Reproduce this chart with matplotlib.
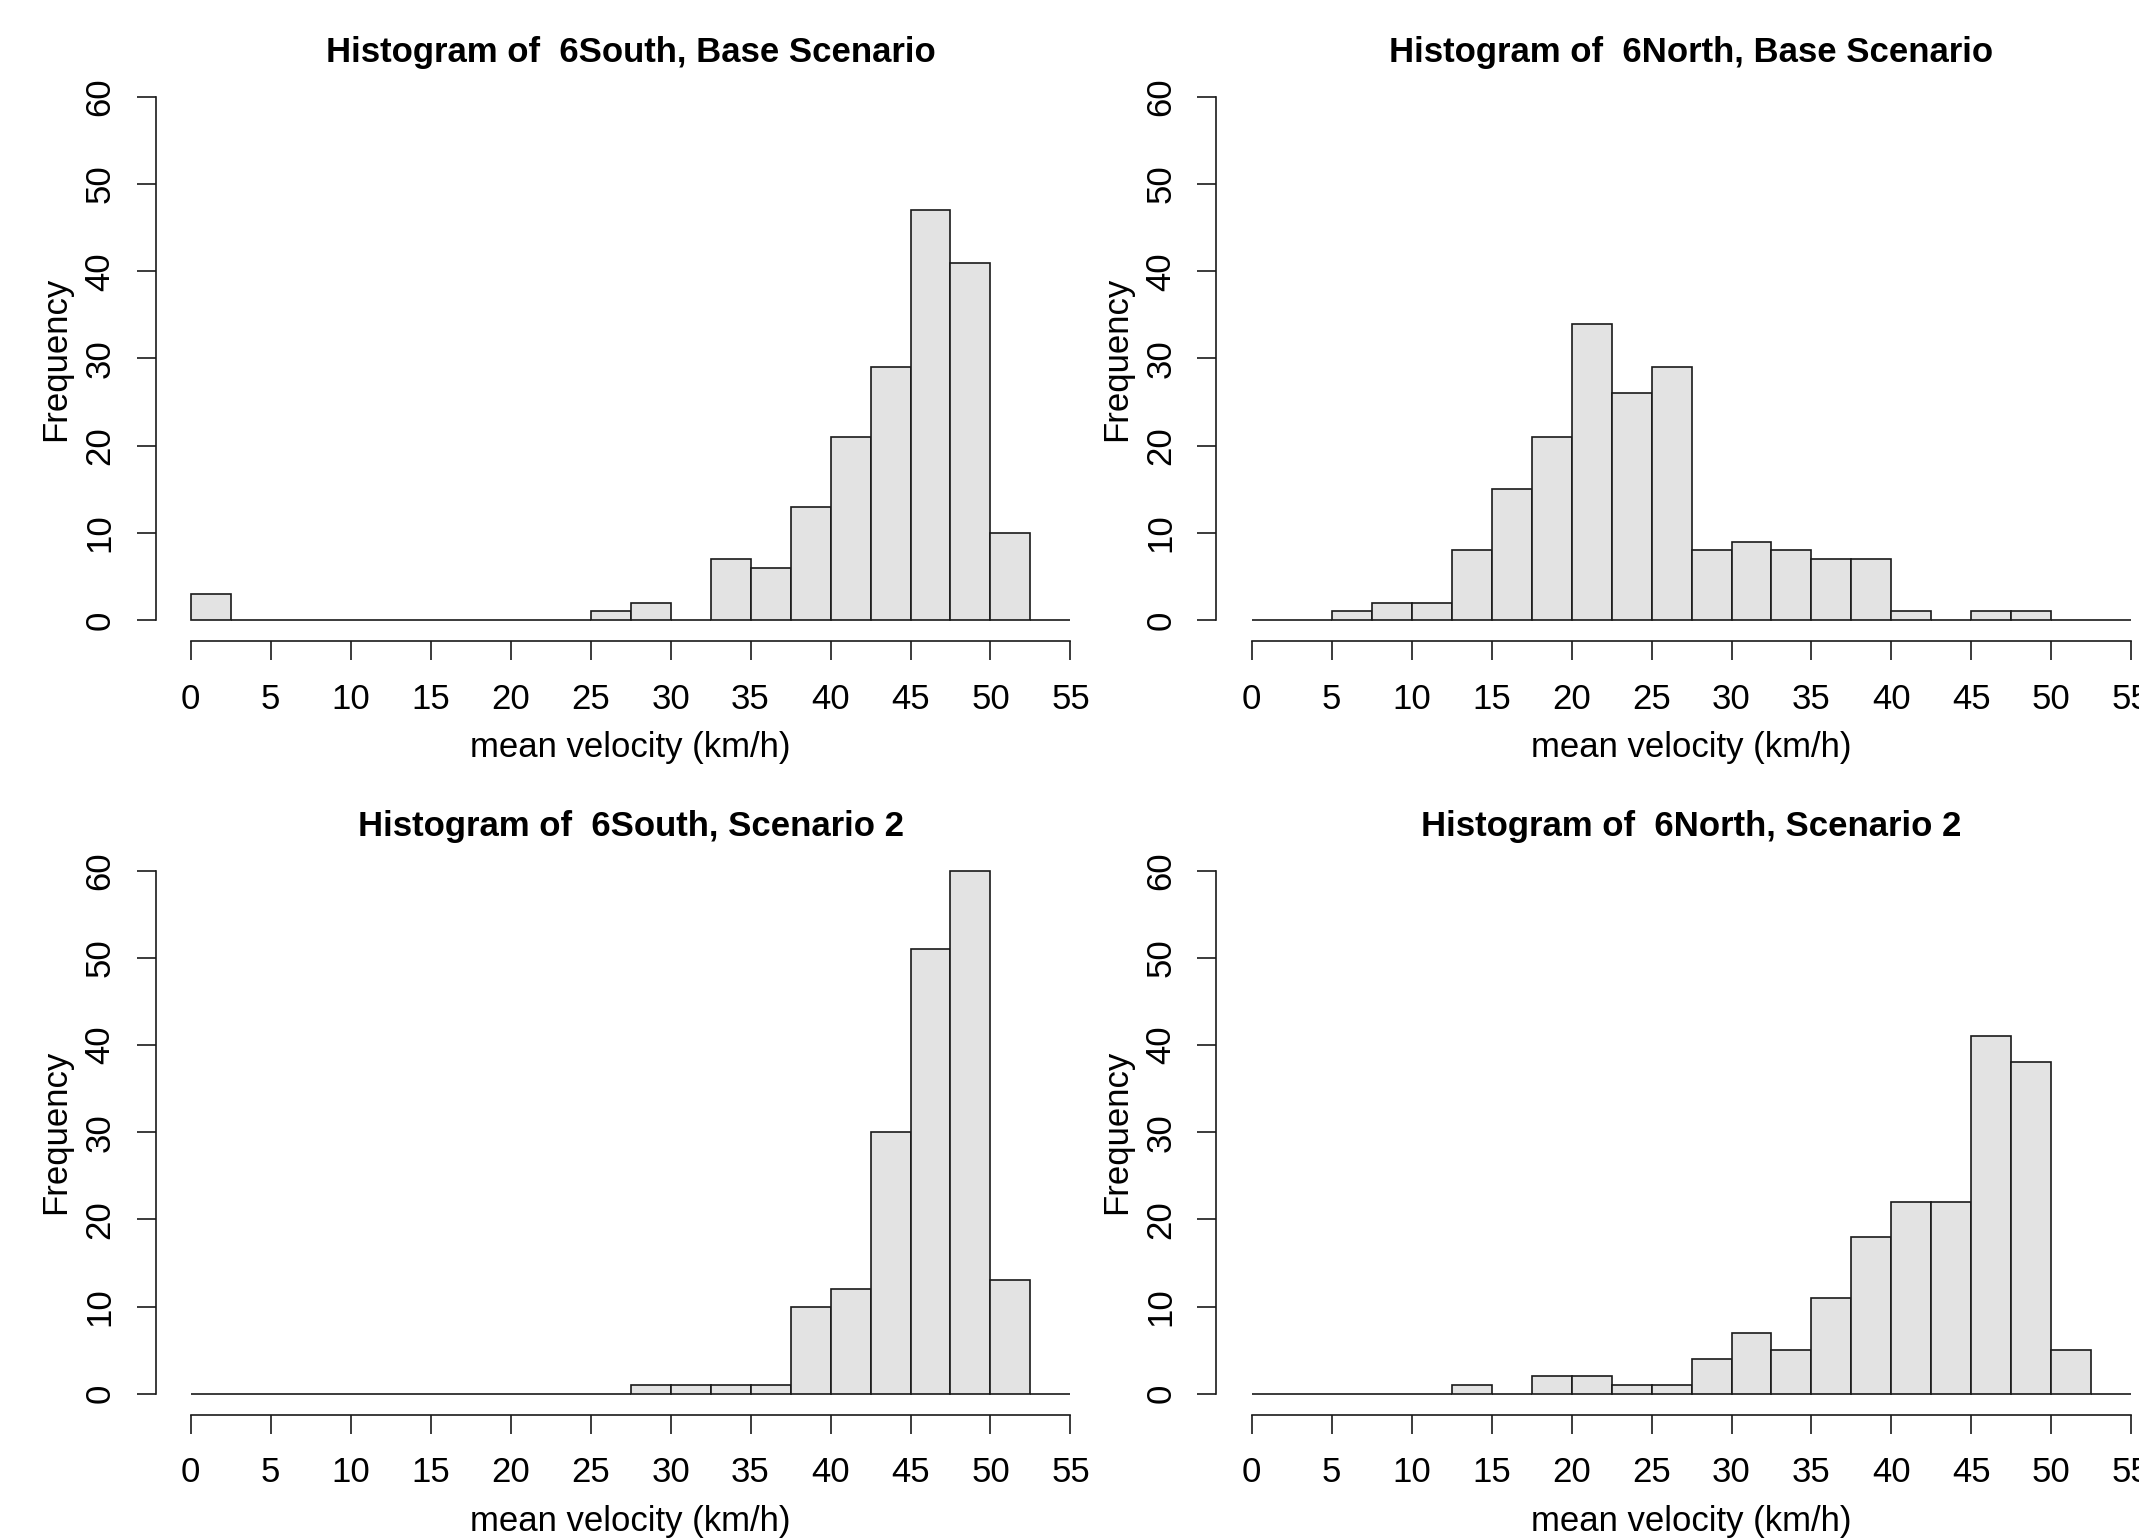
import numpy as np
import matplotlib.pyplot as plt

plt.rcParams['font.family'] = ['Liberation Sans', 'DejaVu Sans']

# bin left edges (width 2.5 km/h), 0 .. 52.5
bin_left = np.arange(0, 55, 2.5)
bin_width = 2.5

# counts per bin
south_base = [3, 0, 0, 0, 0, 0, 0, 0, 0, 0, 1, 2, 0, 7, 6, 13, 21, 29, 47, 41, 10, 0]
north_base = [0, 0, 1, 2, 2, 8, 15, 21, 34, 26, 29, 8, 9, 8, 7, 7, 1, 0, 1, 1, 0, 0]
south_s2 = [0, 0, 0, 0, 0, 0, 0, 0, 0, 0, 0, 1, 1, 1, 1, 10, 12, 30, 51, 60, 13, 0]
north_s2 = [0, 0, 0, 0, 0, 1, 0, 2, 2, 1, 1, 4, 7, 5, 11, 18, 22, 22, 41, 38, 5, 0]

titles = ['Histogram of  6South, Base Scenario',
          'Histogram of  6North, Base Scenario',
          'Histogram of  6South, Scenario 2',
          'Histogram of  6North, Scenario 2']
series = [south_base, north_base, south_s2, north_s2]

x_ticks = [0, 5, 10, 15, 20, 25, 30, 35, 40, 45, 50, 55]
y_ticks = [0, 10, 20, 30, 40, 50, 60]

fig = plt.figure(figsize=(21.39, 15.40), dpi=100)

# axes boxes in figure fractions: [left, bottom, width, height]
boxes = [[0.0727, 0.5838, 0.4442, 0.3669],
         [0.5687, 0.5838, 0.4442, 0.3669],
         [0.0727, 0.0814, 0.4442, 0.3669],
         [0.5687, 0.0814, 0.4442, 0.3669]]

for box, counts, title in zip(boxes, series, titles):
    ax = fig.add_axes(box)
    ax.bar(bin_left, counts, width=bin_width, align='edge',
           color='#E3E3E3', edgecolor='#1a1a1a', linewidth=1.2)

    ax.set_xlim(-2.2, 57.2)
    ax.set_ylim(-2.4, 62.4)

    # R-style detached axes
    for s in ['top', 'right']:
        ax.spines[s].set_visible(False)
    ax.spines['left'].set_bounds(0, 60)
    ax.spines['bottom'].set_bounds(0, 55)
    for s in ['left', 'bottom']:
        ax.spines[s].set_linewidth(1.2)
        ax.spines[s].set_color('#1a1a1a')

    ax.set_xticks(x_ticks)
    ax.set_yticks(y_ticks)
    ax.tick_params(axis='both', direction='out', length=14, width=1.2,
                   labelsize=25, color='#1a1a1a')
    ax.tick_params(axis='x', pad=16)
    ax.tick_params(axis='y', pad=14)
    plt.setp(ax.get_yticklabels(), rotation=90, va='center')

    ax.set_title(title, fontsize=25, fontweight='bold', pad=10)
    ax.set_xlabel('mean velocity (km/h)', fontsize=25, labelpad=11)
    ax.set_ylabel('Frequency', fontsize=25, labelpad=8)

fig.savefig('out.png', dpi=100)
